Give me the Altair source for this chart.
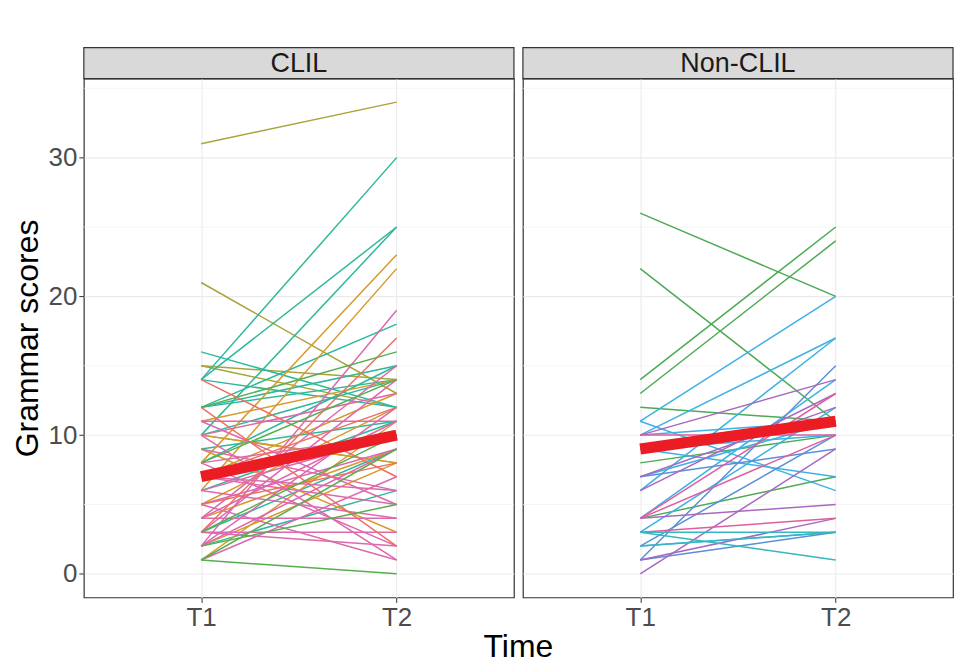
import altair as alt
import pandas as pd

FONT = "Liberation Sans"

# ---------------- data ----------------
clil_t1 = [31, 21, 15, 15, 10,
           14, 14, 10, 16, 12, 12, 14, 8, 9, 6, 3, 2, 10, 7, 12,
           8, 6, 7, 5, 11, 4, 9, 2, 10, 1,
           2, 4, 11, 10, 3, 7, 6, 5, 4, 3, 8, 11, 1, 2, 9, 5, 3, 10, 4, 6, 7, 2, 8,
           14, 3, 7, 12, 5,
           1, 12, 1, 3, 2, 8]
clil_t2 = [34, 13, 14, 12, 8,
           30, 25, 25, 12, 18, 15, 12, 15, 11, 11, 9, 6, 14, 10, 14,
           23, 22, 13, 12, 14, 9, 3, 8, 8, 11,
           19, 15, 11, 13, 14, 6, 10, 1, 4, 3, 2, 5, 7, 12, 6, 9, 2, 1, 11, 4, 5, 9, 10,
           7, 17, 12, 2, 8,
           0, 16, 9, 10, 5, 14]
clil_grp = (["olive"] * 5 + ["teal"] * 15 + ["orange"] * 10 +
            ["pink"] * 23 + ["salmon"] * 5 + ["green"] * 6)

non_t1 = [26, 22, 14, 13, 12, 8, 4,
          11, 10, 6, 11, 9, 3, 10, 9, 7, 4, 2,
          1, 7, 2, 1,
          10, 6, 0, 4, 1, 7,
          4, 3, 4, 10,
          3, 3, 2]
non_t2 = [20, 11, 25, 24, 11, 10, 7,
          20, 17, 17, 6, 7, 12, 11, 10, 11, 14, 3,
          15, 9, 10, 3,
          14, 13, 9, 5, 4, 12,
          10, 4, 13, 10,
          1, 3, 3]
non_grp = (["dgreen"] * 7 + ["blue"] * 11 + ["steel"] * 4 +
           ["purple"] * 6 + ["magenta"] * 4 + ["cyan"] * 3)

mean_t1 = [7, 9]      # CLIL, Non-CLIL
mean_t2 = [10, 11]

minor_vals = [5, 15, 25, 35]
major_vals = [0, 10, 20, 30]

grp_names = ["olive", "teal", "orange", "pink", "salmon", "green",
             "dgreen", "blue", "steel", "purple", "magenta", "cyan"]
grp_colors = ["#A9A43A", "#2EB89B", "#D69A2C", "#DC68AE", "#EE6F63", "#55AF4E",
              "#4CAA55", "#3DB1E4", "#5B8FD8", "#A868C2", "#DE5E9E", "#34B7C0"]

W, H = 431, 520
STRIP = 31

yscale = alt.Scale(domain=[-1.7, 35.7], nice=False, zero=False)
xscale = alt.Scale(domain=[0.4, 2.6], nice=False, zero=False)


def make_panel(t1, t2, grp, label, m1, m2, show_y, add_time):
    rows = []
    for i, (a, b, g) in enumerate(zip(t1, t2, grp)):
        rows.append({"id": i, "time": 1, "score": a, "grp": g})
        rows.append({"id": i, "time": 2, "score": b, "grp": g})
    df = pd.DataFrame(rows)

    xaxis = alt.Axis(values=[1, 2], labelExpr="datum.value == 1 ? 'T1' : 'T2'",
                     title=None, grid=True, gridColor="#EBEBEB", gridWidth=1.1,
                     domain=False, tickColor="#333333", tickSize=5, tickWidth=1,
                     labelFontSize=26, labelColor="#4D4D4D", labelFont=FONT,
                     labelPadding=2)
    if show_y:
        yaxis = alt.Axis(values=major_vals, title="Grammar scores", grid=True,
                         gridColor="#EBEBEB", gridWidth=1.1, domain=False,
                         tickColor="#333333", tickSize=5, labelFontSize=26,
                         labelColor="#4D4D4D", labelFont=FONT, labelPadding=2,
                         titleFontSize=32, titleFont=FONT, titleFontWeight="normal",
                         titleColor="black", titlePadding=4)
    else:
        yaxis = alt.Axis(values=major_vals, title=None, grid=True,
                         gridColor="#EBEBEB", gridWidth=1.1, domain=False,
                         ticks=False, labels=False)

    X = alt.X("time:Q", scale=xscale, axis=xaxis)
    Y = alt.Y("score:Q", scale=yscale, axis=yaxis)

    minor = alt.Chart(pd.DataFrame({"score": minor_vals})).mark_rule(
        color="#EFEFEF", strokeWidth=0.7).encode(y=Y)

    lines = alt.Chart(df).mark_line(strokeWidth=1.5).encode(
        x=X, y=Y, detail="id:N",
        color=alt.Color("grp:N", scale=alt.Scale(domain=grp_names, range=grp_colors),
                        legend=None))

    mean_df = pd.DataFrame({"time": [1, 2], "score": [m1, m2]})
    mean = alt.Chart(mean_df).mark_line(color="#EC1C24", strokeWidth=11,
                                        strokeCap="butt").encode(x=X, y=Y)

    lab_df = pd.DataFrame({"lab": [label]})
    strip = alt.Chart(lab_df).mark_rect(fill="#D9D9D9", stroke="#333333",
                                        strokeWidth=1.2).encode(
        x=alt.value(0), x2=alt.value(W), y=alt.value(-STRIP), y2=alt.value(0))
    strip_txt = alt.Chart(lab_df).mark_text(fontSize=27, font=FONT, color="#1A1A1A",
                                            baseline="middle", align="center").encode(
        x=alt.value(W / 2), y=alt.value(-STRIP / 2 + 1), text="lab:N")

    layers = [minor, lines, mean, strip, strip_txt]
    if add_time:
        t_df = pd.DataFrame({"t": ["Time"]})
        time_txt = alt.Chart(t_df).mark_text(fontSize=32, font=FONT, color="black",
                                             baseline="middle", align="center").encode(
            x=alt.value(W + 4.5), y=alt.value(H + 50), text="t:N")
        layers.append(time_txt)

    return alt.layer(*layers).properties(width=W, height=H)


left = make_panel(clil_t1, clil_t2, clil_grp, "CLIL", mean_t1[0], mean_t2[0], True, True)
right = make_panel(non_t1, non_t2, non_grp, "Non-CLIL", mean_t1[1], mean_t2[1], False, False)

chart = alt.hconcat(left, right, spacing=9, bounds="flush").properties(
    padding={"left": 2, "top": 37, "right": 0, "bottom": 0}
).configure_view(stroke="#333333", strokeWidth=1.2)

chart.save("out.html", embed_options={"renderer": "svg", "actions": False})
